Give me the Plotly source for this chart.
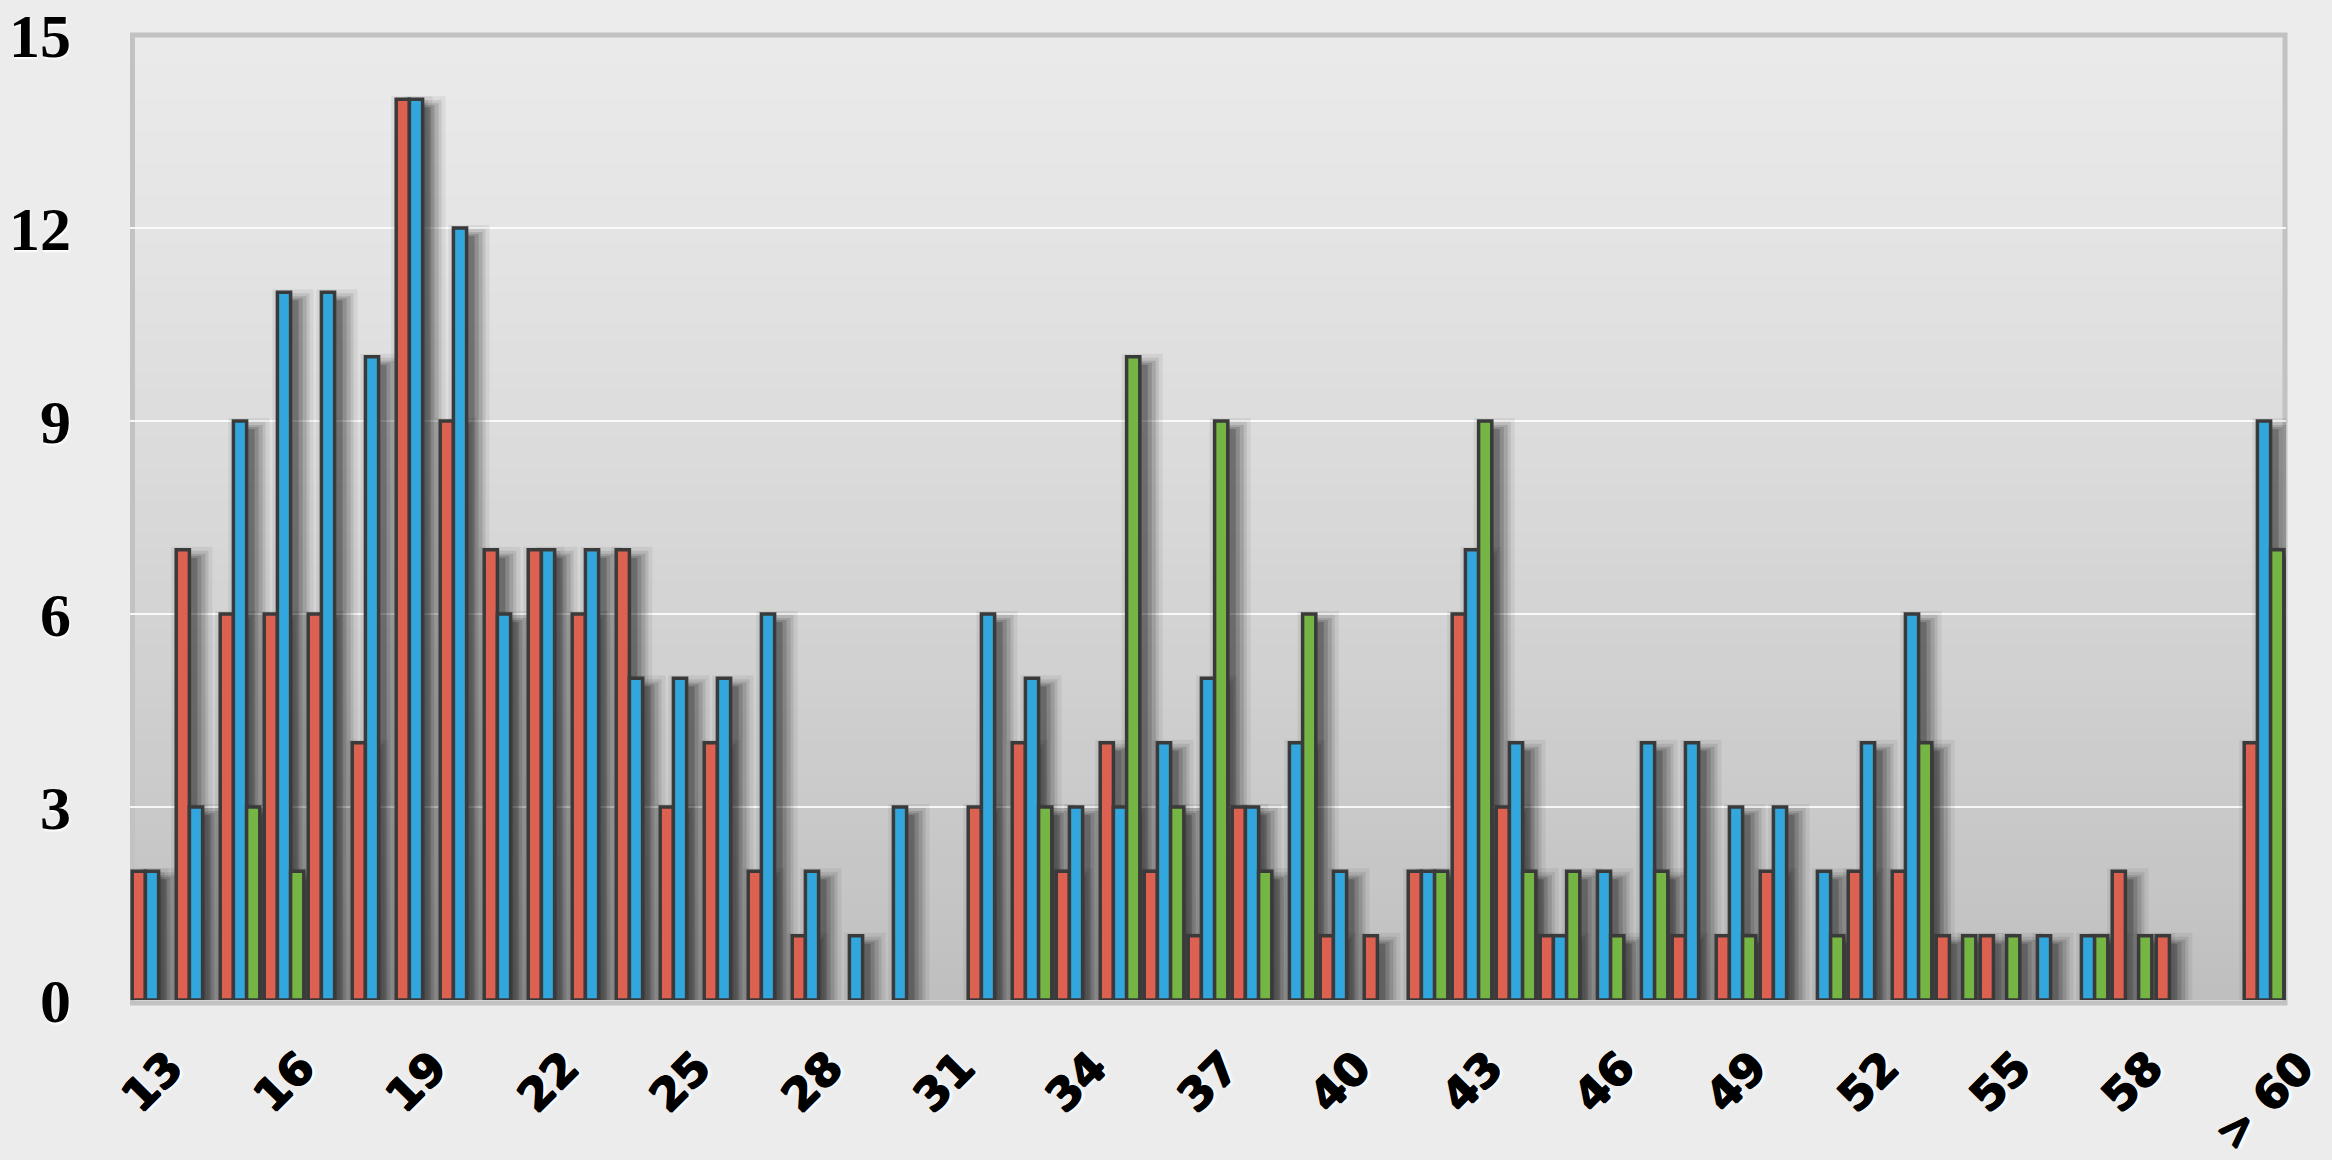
import plotly.graph_objects as go

# ---------------- data ----------------
categories = ["13", "14", "15", "16", "17", "18", "19", "20", "21", "22",
              "23", "24", "25", "26", "27", "28", "29", "30", "31", "32",
              "33", "34", "35", "36", "37", "38", "39", "40", "41", "42",
              "43", "44", "45", "46", "47", "48", "49", "50", "51", "52",
              "53", "54", "55", "56", "57", "58", "59", "60", "> 60"]

red_values = [2, 7, 6, 6, 6, 4, 14, 9, 7, 7,
              6, 7, 3, 4, 2, 1, 0, 0, 0, 3,
              4, 2, 4, 2, 1, 3, 0, 1, 1, 2,
              6, 3, 1, 0, 0, 1, 1, 2, 0, 2,
              2, 1, 1, 0, 0, 2, 1, 0, 4]

blue_values = [2, 3, 9, 11, 11, 10, 14, 12, 6, 7,
               7, 5, 5, 5, 6, 2, 1, 3, 0, 6,
               5, 3, 3, 4, 5, 3, 4, 2, 0, 2,
               7, 4, 1, 2, 4, 4, 3, 3, 2, 4,
               6, 0, 0, 1, 1, 0, 0, 0, 9]

green_values = [0, 0, 3, 2, 0, 0, 0, 0, 0, 0,
                0, 0, 0, 0, 0, 0, 0, 0, 0, 0,
                3, 0, 10, 3, 9, 2, 6, 0, 0, 2,
                9, 2, 2, 1, 2, 0, 1, 0, 1, 0,
                4, 1, 1, 0, 1, 1, 0, 0, 7]

x_tick_labels = ["13", "16", "19", "22", "25", "28", "31", "34", "37", "40",
                 "43", "46", "49", "52", "55", "58", "> 60"]
y_tick_values = [0, 3, 6, 9, 12, 15]

# ---------------- styling ----------------
W, H = 2332, 1160
M_L, M_R, M_T, M_B = 130, 46, 35, 160
PLOT_W = W - M_L - M_R
PLOT_H = H - M_T - M_B
N = len(categories)
PX_X = PLOT_W / N          # px per category
PX_Y = PLOT_H / 15.0       # px per unit

series = [
    ("red", red_values, "#DD6150", -0.45),
    ("blue", blue_values, "#31A7DE", -0.15),
    ("green", green_values, "#74B544", 0.15),
]
BAR_W = 0.30
LINE_COLOR = "#3A3A3A"
idx = list(range(N))

fig = go.Figure()

# soft drop shadows (several translucent layers approximate a blur)
shadow_layers = [  # (dx px, dy px, spread px, alpha)
    (9, 11, 14, 0.06),
    (9, 11, 10, 0.09),
    (9, 11, 7, 0.12),
    (8, 10, 4, 0.15),
    (7, 9, 1, 0.20),
]
for name, vals, color, off in series:
    for dx, dy, sp, a in shadow_layers:
        ys = []
        for v in vals:
            if v:
                ys.append(max(v - (dy - sp) / PX_Y, 0))
            else:
                ys.append(None)
        fig.add_trace(go.Bar(
            x=idx, y=ys,
            offset=off + (dx - sp) / PX_X,
            width=BAR_W + 2 * sp / PX_X,
            marker=dict(color=f"rgba(0,0,0,{a})", line=dict(width=0)),
            showlegend=False, hoverinfo="skip",
        ))

for name, vals, color, off in series:
    fig.add_trace(go.Bar(
        x=idx, y=[v if v else None for v in vals],
        name=name, offset=off, width=BAR_W,
        marker=dict(color=color, line=dict(color=LINE_COLOR, width=3.5)),
        customdata=categories, hovertemplate="%{customdata}: %{y}<extra>" + name + "</extra>",
        showlegend=False,
    ))

# vertical gradient background inside plot area
shapes = []
NB = 60
top_c = (0xEA, 0xEA, 0xEA)
bot_c = (0xBF, 0xBF, 0xBF)
for k in range(NB):
    t = (k + 0.5) / NB           # 0 at top .. 1 at bottom
    tt = t ** 1.25
    c = tuple(int(round(top_c[i] + (bot_c[i] - top_c[i]) * tt)) for i in range(3))
    shapes.append(dict(
        type="rect", xref="x domain", yref="y domain",
        x0=0, x1=1, y0=1 - (k + 1) / NB, y1=1 - k / NB + 0.001,
        fillcolor="rgb(%d,%d,%d)" % c, line=dict(width=0), layer="below"))
# plot border
shapes.append(dict(
    type="rect", xref="x domain", yref="y domain",
    x0=2.5 / PLOT_W, x1=1 - 1.0 / PLOT_W, y0=-3 / PLOT_H, y1=1,
    fillcolor="rgba(0,0,0,0)", line=dict(color="#C2C2C2", width=5), layer="below"))

# rotated category labels
annotations = []
for lab in x_tick_labels:
    annotations.append(dict(
        x=categories.index(lab), xref="x", y=-38 / PLOT_H, yref="paper",
        text=lab.replace(">", "&gt;"), showarrow=False, textangle=-45,
        xanchor="center", yanchor="top",
        font=dict(family="DejaVu Sans", size=45, color="#000000", weight="bold",
                  shadow="1px 0px 0px #000, -1px 0px 0px #000, 0px 1px 0px #000, 2px 3px 3px #ffffff"),
    ))

fig.update_layout(
    width=W, height=H,
    margin=dict(l=M_L, r=M_R, t=M_T, b=M_B, pad=0, autoexpand=False),
    paper_bgcolor="#ECECEC",
    plot_bgcolor="#E0E0E0",
    barmode="overlay",
    shapes=shapes,
    annotations=annotations,
    showlegend=False,
)
fig.update_xaxes(
    range=[-0.5, N - 0.5], showticklabels=False, showgrid=False,
    zeroline=False, showline=False, ticks="", automargin=False,
)
fig.update_yaxes(
    range=[0, 15], tickvals=y_tick_values, ticktext=[str(v) for v in y_tick_values],
    showgrid=True, gridcolor="rgba(255,255,255,0.85)", gridwidth=2,
    zeroline=False, showline=False, ticks="", automargin=False,
    ticklabelstandoff=58,
    tickfont=dict(family="Liberation Serif", size=62, color="#000000", weight="bold",
                  shadow="1px 2px 2px #ffffff"),
)

fig.write_html(
    "out.html",
    config={"displayModeBar": False},
    post_script="document.body.style.margin='0';document.body.style.background='#ECECEC';",
)
